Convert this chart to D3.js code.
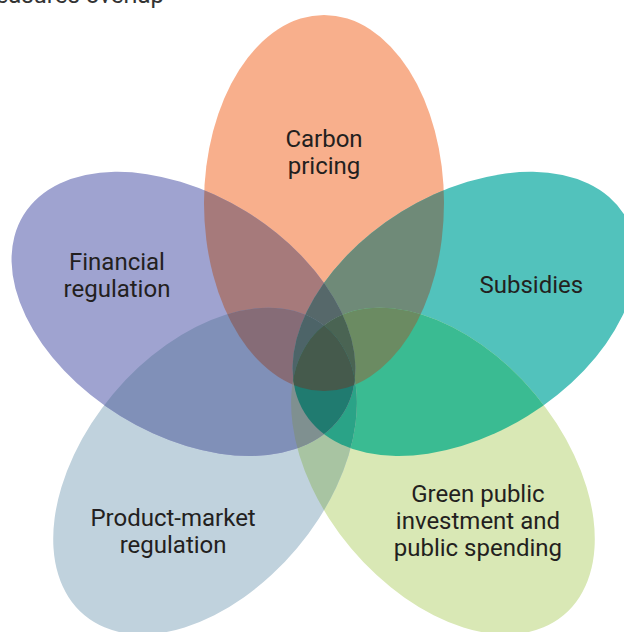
<!DOCTYPE html>
<html>
<head>
<meta charset="utf-8">
<script src="https://cdn.jsdelivr.net/npm/d3@7"></script>
<style>
  body { margin: 0; background: #fff; }
  svg { display: block; font-family: Roboto, "Noto Sans", sans-serif; }
</style>
</head>
<body>
<div id="chart"></div>
<script>
var width = 624,
    height = 632;

// petals of the diagram (index order is used for the overlap colours below)
var petals = ["Carbon pricing", "Subsidies", "Green public investment and public spending",
              "Product-market regulation", "Financial regulation"];
var labelLines = [["Carbon", "pricing"], ["Subsidies"], ["Green public", "investment and", "public spending"],
                  ["Product-market", "regulation"], ["Financial", "regulation"]];
var title = "Policy measures overlap";

// layout: polar placement around the flower centre (degrees clockwise from up)
var petalAngle = [0, 73.7, 134.3, -134.3, -73.7],
    petalDist = [152, 146.4, 166.2, 166.2, 146.4],
    petalTilt = [0, 58.3, 140, -140, -58.3],
    labelAngle = [0, 71.2, 137, -139.4, -68.9],
    labelDist = [203, 219, 225.7, 231.9, 221.9];

var petalColor = ["#f8af8c", "#52c2bc", "#d9e8b5", "#c0d2dd", "#9fa3d0"];
// colours of the overlapping areas, keyed by the petals that cover them
var overlapColor = {
  "0,4": "#a67a7b", "0,1": "#6f8a78", "3,4": "#8090b8", "1,2": "#3abb92", "2,3": "#a8c4a2",
  "0,1,4": "#56686a", "0,3,4": "#866c77", "0,1,2": "#6b8b62", "2,3,4": "#7f9090", "1,2,3": "#2aa387",
  "0,1,3,4": "#4d6468", "0,1,2,4": "#4a6453", "1,2,3,4": "#207b70", "0,1,2,3,4": "#455a4c"
};

var cx = 324, cy = 355,
    rMajor = 188, rMinor = 120,
    lineHeight = 27;

var rad = d3.scaleLinear().domain([0, 180]).range([0, Math.PI]);
var px = (a, d) => cx + d * Math.sin(rad(a)),
    py = (a, d) => cy - d * Math.cos(rad(a));

var svg = d3.select("#chart").append("svg")
    .attr("width", width)
    .attr("height", height);

var shapes = petals.map((p, i) => ({
  i: i,
  x: px(petalAngle[i], petalDist[i]),
  y: py(petalAngle[i], petalDist[i]),
  tilt: petalTilt[i]
}));

var defs = svg.append("defs");
defs.selectAll("clipPath")
  .data(shapes)
  .join("clipPath")
    .attr("id", d => "petal-" + d.i)
  .append("ellipse")
    .attr("rx", rMinor)
    .attr("ry", rMajor)
    .attr("transform", d => `translate(${d.x},${d.y}) rotate(${d.tilt})`);

function colorFor(set) {
  if (set.length == 1) return petalColor[set[0]];
  var key = set.join(",");
  if (overlapColor[key]) return overlapColor[key];
  // not read from the picture: mix the neighbouring overlaps
  var parts = set.map(k => d3.rgb(colorFor(set.filter(j => j != k))));
  var c = d3.rgb(d3.mean(parts, p => p.r), d3.mean(parts, p => p.g), d3.mean(parts, p => p.b));
  return c.darker(0.3).formatHex();
}

// every combination of petals, painted from singles up to all five
var sets = d3.range(1, 32).map(m => d3.range(5).filter(i => m & (1 << i)));
sets.sort((a, b) => a.length - b.length);

var layer = svg.append("g");
sets.forEach(function(set) {
  var g = layer;
  set.slice(0, -1).forEach(function(k) {
    g = g.append("g").attr("clip-path", "url(#petal-" + k + ")");
  });
  var d = shapes[set[set.length - 1]];
  g.append("ellipse")
    .attr("rx", rMinor)
    .attr("ry", rMajor)
    .attr("transform", `translate(${d.x},${d.y}) rotate(${d.tilt})`)
    .attr("fill", colorFor(set));
});

// labels
var labels = svg.append("g")
    .attr("fill", "#231f20")
    .attr("font-size", 24)
    .attr("text-anchor", "middle");

labelLines.forEach(function(lines, i) {
  var x = px(labelAngle[i], labelDist[i]),
      y = py(labelAngle[i], labelDist[i]) - (lines.length - 1) * lineHeight / 2 + 8.5;
  labels.append("text")
    .selectAll("tspan")
    .data(lines)
    .join("tspan")
      .attr("x", x)
      .attr("y", (t, j) => y + j * lineHeight)
      .text(t => t);
});

// title, mostly cut off by the top of the picture
svg.append("text")
    .attr("x", 164)
    .attr("y", 3)
    .attr("text-anchor", "end")
    .attr("font-size", 24)
    .attr("fill", "#333")
    .text(title);
</script>
</body>
</html>
